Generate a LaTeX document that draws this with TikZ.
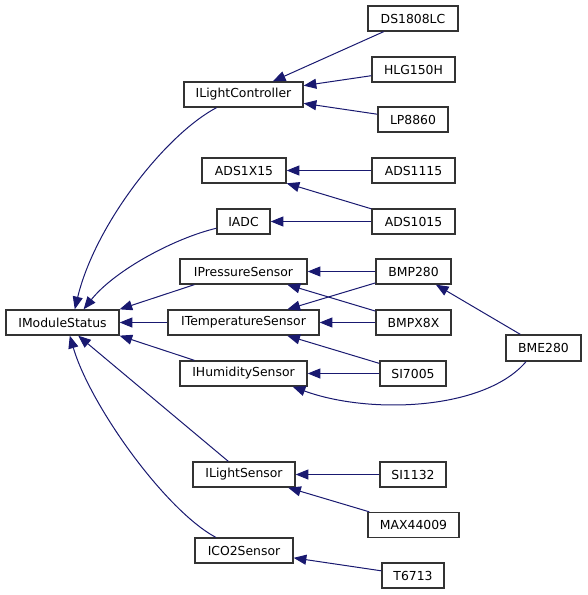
\documentclass[tikz,border=0pt]{standalone}
\usepackage{fontspec}
\setmainfont{DejaVu Sans}
\usetikzlibrary{arrows.meta}
\definecolor{edgeblue}{RGB}{25,25,112}

\begin{document}
\begin{tikzpicture}[x=0.75pt,y=-0.75pt,
  cls/.style={draw=black!80,fill=white,line width=1pt,minimum height=18.75pt,
    inner sep=1pt,font=\fontsize{9.3}{11}\selectfont},
  bw/.style={minimum width=#1*0.75pt},
  inh/.style={draw=edgeblue,line width=0.75pt,-{Triangle[length=9.5pt,width=7.5pt]}}]

\useasboundingbox (0,0) rectangle (587,595); %% margins

%% base
\node[cls,bw=113] (IModuleStatus) at (62.5,322.5) {IModuleStatus};

%% interfaces
\node[cls,bw=119] (ILightController)   at (243.5,94.5)  {ILightController};
\node[cls,bw=84]  (ADS1X15)            at (244,170.5)   {ADS1X15};
\node[cls,bw=53]  (IADC)               at (243.5,221.5) {IADC};
\node[cls,bw=127] (IPressureSensor)    at (243.5,271.5) {IPressureSensor};
\node[cls,bw=151] (ITemperatureSensor) at (243.5,322.5) {ITemperatureSensor};
\node[cls,bw=127] (IHumiditySensor)    at (243.5,373.5) {IHumiditySensor};
\node[cls,bw=102] (ILightSensor)       at (244,474.5)   {ILightSensor};
\node[cls,bw=98]  (ICO2Sensor)         at (244,550.5)   {ICO2Sensor};

%% devices
\node[cls,bw=90] (DS1808LC) at (413,18.5)    {DS1808LC};
\node[cls,bw=83] (HLG150H)  at (413.5,69.5)  {HLG150H};
\node[cls,bw=70] (LP8860)   at (413,119.5)   {LP8860};
\node[cls,bw=83] (ADS1115)  at (413.5,170.5) {ADS1115};
\node[cls,bw=83] (ADS1015)  at (413.5,221.5) {ADS1015};
\node[cls,bw=75] (BMP280)   at (413.5,271.5) {BMP280};
\node[cls,bw=75] (BMPX8X)   at (413.5,322.5) {BMPX8X};
\node[cls,bw=66] (SI7005)   at (413,373.5)   {SI7005};
\node[cls,bw=66] (SI1132)   at (413,474.5)   {SI1132};
\node[cls,bw=91] (MAX44009) at (413.5,525)   {MAX44009};
\node[cls,bw=62] (T6713)    at (413,575.5)   {T6713};
\node[cls,bw=75,minimum height=19.5pt] (BME280) at (543.5,348) {BME280};

%% devices -> interfaces
\draw[inh] (DS1808LC) -- (ILightController);
\draw[inh] (HLG150H) -- (ILightController);
\draw[inh] (LP8860) -- (ILightController);
\draw[inh] (ADS1115) -- (ADS1X15);
\draw[inh] (ADS1015) -- (ADS1X15);
\draw[inh] (ADS1015) -- (IADC);
\draw[inh] (BMP280) -- (IPressureSensor);
\draw[inh] (BMP280) -- (ITemperatureSensor);
\draw[inh] (BMPX8X) -- (IPressureSensor);
\draw[inh] (BMPX8X) -- (ITemperatureSensor);
\draw[inh] (SI7005) -- (ITemperatureSensor);
\draw[inh] (SI7005) -- (IHumiditySensor);
\draw[inh] (BME280) -- (BMP280);
\draw[inh] (BME280.218) .. controls (485,410) and (370,415) .. (IHumiditySensor.-15.5);
\draw[inh] (SI1132) -- (ILightSensor);
\draw[inh] (MAX44009) -- (ILightSensor);
\draw[inh] (T6713) -- (ICO2Sensor);

%% interfaces -> base
\draw[inh] (ILightController.206) .. controls (165,135) and (95,225) .. (IModuleStatus.47);
\draw[inh] (IADC.194) .. controls (175,238) and (115,270) .. (IModuleStatus.32);
\draw[inh] (IPressureSensor.195) -- (IModuleStatus.13);
\draw[inh] (ITemperatureSensor) -- (IModuleStatus);
\draw[inh] (IHumiditySensor.165) -- (IModuleStatus.-13);
\draw[inh] (ILightSensor) -- (IModuleStatus);
\draw[inh] (ICO2Sensor.155) .. controls (165,510) and (90,405) .. (IModuleStatus.-61);

\end{tikzpicture}
\end{document}
